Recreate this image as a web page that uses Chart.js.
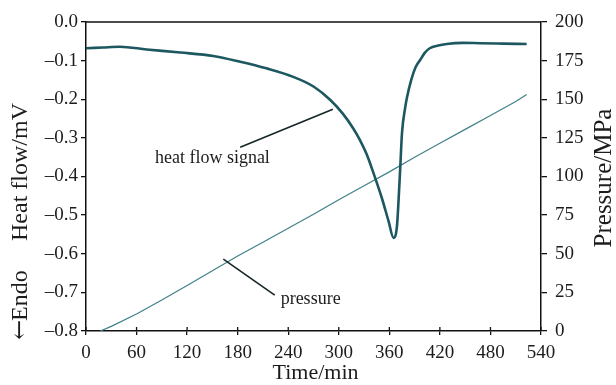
<!DOCTYPE html>
<html>
<head>
<meta charset="utf-8">
<script src="https://cdn.jsdelivr.net/npm/chart.js@4.4.1/dist/chart.umd.min.js"></script>
<style>
  html, body { margin: 0; padding: 0; background: #ffffff; }
  #wrap { width: 616px; height: 385px; position: relative; }
</style>
</head>
<body>
<div id="wrap"><canvas id="c" width="616" height="385"></canvas></div>
<script>
// ---- data ----
const heatTime = [0, 20, 40, 72, 112, 151, 183, 214, 246, 270, 290, 305, 317, 325, 333, 341, 351, 359, 365, 369, 371, 373, 375, 379, 381, 386, 391, 397, 402, 408, 418, 428, 447, 468, 495, 523];
const heatFlow = [-0.068, -0.066, -0.064, -0.071, -0.079, -0.088, -0.103, -0.12, -0.142, -0.167, -0.202, -0.238, -0.275, -0.305, -0.342, -0.39, -0.455, -0.515, -0.559, -0.53, -0.46, -0.375, -0.288, -0.219, -0.195, -0.15, -0.118, -0.097, -0.08, -0.068, -0.061, -0.057, -0.054, -0.055, -0.056, -0.057];
const pressTime = [17, 30, 60, 90, 120, 150, 180, 210, 240, 270, 300, 330, 360, 390, 420, 450, 480, 510, 523];
const pressure = [0, 3, 11, 20, 29.5, 39, 48.5, 57.5, 66.5, 75.5, 85, 94, 103, 112.5, 121.5, 130.5, 139.5, 148.5, 153];
const timeTicks = [0, 60, 120, 180, 240, 300, 360, 420, 480, 540];
const heatTicks = [0, -0.1, -0.2, -0.3, -0.4, -0.5, -0.6, -0.7, -0.8];
const pressTicks = [0, 25, 50, 75, 100, 125, 150, 175, 200];

const FONT = '"Liberation Serif", "Times New Roman", serif';
const INK = '#1c1c1c';

const heatPts = heatTime.map((t, i) => ({ x: t, y: heatFlow[i] }));
const pressPts = pressTime.map((t, i) => ({ x: t, y: pressure[i] }));

// annotation anchors in data units (time, heat flow)
const notes = [
  { text: 'heat flow signal', at: [150, -0.352], line: [[183, -0.324], [293, -0.226]], align: 'center' },
  { text: 'pressure', at: [231, -0.717], line: [[163, -0.614], [224, -0.707]], align: 'left' }
];

const extras = {
  id: 'extras',
  afterDraw(chart) {
    const { ctx, chartArea: a, scales } = chart;
    const x = scales.x, y = scales.y;
    ctx.save();
    // top frame line
    ctx.strokeStyle = '#111';
    ctx.lineWidth = 1.5;
    ctx.beginPath();
    ctx.moveTo(a.left, a.top);
    ctx.lineTo(a.right, a.top);
    ctx.stroke();
    // inward x ticks
    ctx.lineWidth = 1.3;
    timeTicks.forEach(t => {
      const px = x.getPixelForValue(t);
      ctx.beginPath();
      ctx.moveTo(px, a.bottom);
      ctx.lineTo(px, a.bottom - 4);
      ctx.stroke();
    });
    // annotations
    ctx.strokeStyle = '#152628';
    ctx.lineWidth = 1.6;
    ctx.fillStyle = INK;
    ctx.font = '18px ' + FONT;
    ctx.textBaseline = 'middle';
    notes.forEach(n => {
      ctx.beginPath();
      ctx.moveTo(x.getPixelForValue(n.line[0][0]), y.getPixelForValue(n.line[0][1]));
      ctx.lineTo(x.getPixelForValue(n.line[1][0]), y.getPixelForValue(n.line[1][1]));
      ctx.stroke();
      ctx.textAlign = n.align;
      ctx.fillText(n.text, x.getPixelForValue(n.at[0]), y.getPixelForValue(n.at[1]));
    });
    // axis titles
    ctx.fillStyle = INK;
    ctx.textAlign = 'center';
    ctx.font = '22px ' + FONT;
    ctx.fillText('Time/min', (a.left + a.right) / 2 + 2, 373);
    ctx.save();
    ctx.translate(21, 172);
    ctx.rotate(-Math.PI / 2);
    ctx.font = '24px ' + FONT;
    ctx.fillText('Heat flow/mV', 0, 0);
    ctx.restore();
    ctx.save();
    ctx.translate(21, 299);
    ctx.rotate(-Math.PI / 2);
    ctx.font = '24px "DejaVu Serif", ' + FONT;
    ctx.fillText('\u2190', -31, 0);
    ctx.font = '24px ' + FONT;
    ctx.textAlign = 'left';
    ctx.fillText('Endo', -22, 0);
    ctx.restore();
    ctx.save();
    ctx.translate(604, 178);
    ctx.rotate(-Math.PI / 2);
    ctx.font = '25px ' + FONT;
    ctx.fillText('Pressure/MPa', 0, 0);
    ctx.restore();
    ctx.restore();
  }
};

new Chart(document.getElementById('c'), {
  type: 'line',
  data: {
    datasets: [
      {
        label: 'heat flow signal',
        data: heatPts,
        yAxisID: 'y',
        borderColor: '#1d5860',
        borderWidth: 2.6,
        pointRadius: 0,
        cubicInterpolationMode: 'monotone',
        fill: false
      },
      {
        label: 'pressure',
        data: pressPts,
        yAxisID: 'y1',
        borderColor: '#3f8088',
        borderWidth: 1.2,
        pointRadius: 0,
        tension: 0,
        fill: false
      }
    ]
  },
  options: {
    responsive: false,
    animation: false,
    devicePixelRatio: 1,
    layout: { padding: { top: 22, left: 0, right: 0, bottom: 0 } },
    plugins: { legend: { display: false }, tooltip: { enabled: false } },
    scales: {
      x: {
        type: 'linear',
        min: 0, max: 540,
        afterFit(s) { s.height = 54; },
        afterBuildTicks(s) { s.ticks = timeTicks.map(v => ({ value: v })); },
        grid: { drawOnChartArea: false, drawTicks: true, tickLength: 4, tickColor: '#111', lineWidth: 1.3 },
        border: { display: true, color: '#111', width: 1.5 },
        ticks: { color: INK, font: { family: FONT, size: 19 }, padding: 7, maxRotation: 0 }
      },
      y: {
        type: 'linear',
        position: 'left',
        min: -0.8, max: 0,
        afterFit(s) { s.width = 86; },
        afterBuildTicks(s) { s.ticks = heatTicks.map(v => ({ value: v })); },
        grid: { drawOnChartArea: false, drawTicks: true, tickLength: 5, tickColor: '#111', lineWidth: 1.3 },
        border: { display: true, color: '#111', width: 1.5 },
        ticks: {
          color: INK, font: { family: FONT, size: 19 }, padding: 3,
          callback: v => (Math.abs(v) < 1e-9 ? '0.0' : '\u2013' + Math.abs(v).toFixed(1))
        }
      },
      y1: {
        type: 'linear',
        position: 'right',
        min: 0, max: 200,
        afterFit(s) { s.width = 75; },
        afterBuildTicks(s) { s.ticks = pressTicks.map(v => ({ value: v })); },
        grid: { drawOnChartArea: false, drawTicks: true, tickLength: 6, tickColor: '#111', lineWidth: 1.3 },
        border: { display: true, color: '#111', width: 1.5 },
        ticks: { color: INK, font: { family: FONT, size: 19 }, padding: 8 }
      }
    }
  },
  plugins: [extras]
});
</script>
</body>
</html>
